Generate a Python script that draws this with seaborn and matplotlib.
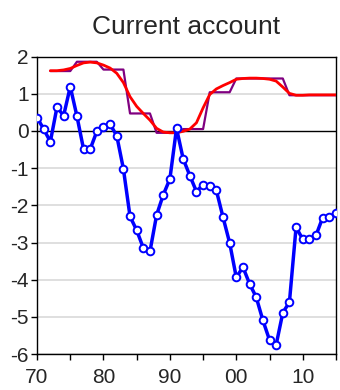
import numpy as np
import pandas as pd
import seaborn as sns
import matplotlib
matplotlib.use("Agg")
import matplotlib.pyplot as plt

# annual current account data, 1970-2015
years = list(range(1970, 2016))
actual = [0.36, 0.05, -0.29, 0.64, 0.41, 1.19, 0.40, -0.49, -0.49, -0.01,
          0.11, 0.18, -0.13, -1.02, -2.30, -2.67, -3.15, -3.24, -2.26, -1.72,
          -1.29, 0.07, -0.75, -1.20, -1.63, -1.44, -1.49, -1.60, -2.32, -3.01,
          -3.94, -3.66, -4.11, -4.47, -5.09, -5.62, -5.75, -4.89, -4.60, -2.59,
          -2.91, -2.91, -2.81, -2.33, -2.32, -2.21]

# regime means and smoothed estimate, 1972-2015
trend_years = list(range(1972, 2016))
regime = ([1.61] * 4 + [1.86] * 4 + [1.65] * 4 + [0.47] * 4 + [-0.05] * 4 +
          [0.05] * 4 + [1.04] * 4 + [1.41] * 8 + [0.96] * 8)
smooth = [1.62, 1.62, 1.64, 1.68, 1.76, 1.83, 1.85, 1.83, 1.77, 1.69,
          1.55, 1.30, 0.92, 0.66, 0.47, 0.29, 0.07, -0.03, -0.05, -0.05,
          -0.01, 0.05, 0.22, 0.62, 0.98, 1.13, 1.22, 1.30, 1.39, 1.41,
          1.42, 1.42, 1.41, 1.39, 1.34, 1.18, 1.01, 0.96, 0.96, 0.97,
          0.97, 0.97, 0.97, 0.97]

tick_years = [1970, 1980, 1990, 2000, 2010]
tick_labels = ["70", "80", "90", "00", "10"]

df = pd.DataFrame({"year": years, "ca": actual})
tr = pd.DataFrame({"year": trend_years, "regime": regime, "smooth": smooth})

sns.set_style("white")
plt.rcParams["font.family"] = ["Liberation Sans", "DejaVu Sans"]

fig = plt.figure(figsize=(3.4, 3.9), dpi=100)
ax = fig.add_axes([0.109, 0.092, 0.879, 0.763])

for v in range(-6, 3):
    if v != 0:
        ax.axhline(v, color="#d9d9d9", lw=1.2, zorder=0)
ax.axhline(0, color="black", lw=1, zorder=1)

sns.lineplot(data=tr, x="year", y="regime", ax=ax, color="#800080", lw=1.6, zorder=2)
sns.lineplot(data=tr, x="year", y="smooth", ax=ax, color="#ff0000", lw=2.0, zorder=3)
sns.lineplot(data=df, x="year", y="ca", ax=ax, color="#0000ff", lw=2.5,
             marker="o", markersize=5.5, markerfacecolor="white",
             markeredgecolor="#0000ff", markeredgewidth=1.4, zorder=4)

ax.set_xlim(1970, 2015)
ax.set_ylim(-6, 2)
ax.set_xticks(list(range(1970, 2016, 5)))
ax.set_xticklabels([tick_labels[tick_years.index(t)] if t in tick_years else ""
                    for t in range(1970, 2016, 5)])
ax.set_yticks(range(-6, 3))
ax.set_yticklabels([str(v) for v in range(-6, 3)])
ax.tick_params(axis="both", direction="out", length=4, width=1, labelsize=15,
               color="black", bottom=True, left=True)
ax.tick_params(axis="x", pad=6)
ax.tick_params(axis="y", pad=2)
for s in ax.spines.values():
    s.set_color("black")
    s.set_linewidth(1)
ax.set_xlabel("")
ax.set_ylabel("")
ax.set_title("Current account", fontsize=19, pad=16)

fig.savefig("out.png", dpi=100)
